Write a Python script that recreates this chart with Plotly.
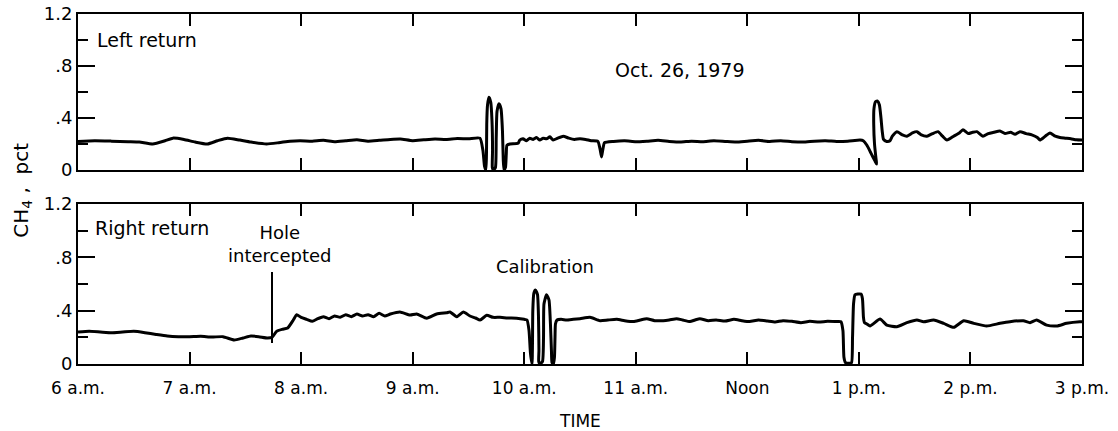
import plotly.graph_objects as go

# ---------------- data ----------------
hour_ticks = [6, 7, 8, 9, 10, 11, 12, 13, 14, 15]
hour_labels = ["6 a.m.", "7 a.m.", "8 a.m.", "9 a.m.", "10 a.m.", "11 a.m.", "Noon", "1 p.m.", "2 p.m.", "3 p.m."]
y_major = [0, 0.4, 0.8, 1.2]
y_major_labels = ["0", ".4", ".8", "1.2"]
y_minor = [0.2, 0.6, 1.0]

# Left return (top panel): time in hours, CH4 in pct
left_time = [
    6.00, 6.15, 6.30, 6.45, 6.55, 6.67, 6.78, 6.85, 6.95, 7.05, 7.16, 7.25, 7.34, 7.45, 7.55, 7.69,
    7.80, 7.90, 7.99, 8.10, 8.20, 8.30, 8.40, 8.50, 8.60, 8.70, 8.80, 8.89, 9.00, 9.10, 9.20, 9.30,
    9.40, 9.50, 9.603,
    9.630, 9.644, 9.657, 9.662, 9.664, 9.671, 9.684, 9.700, 9.711, 9.716, 9.714, 9.724, 9.742,
    9.749, 9.756, 9.774, 9.792, 9.805, 9.812, 9.819, 9.832, 9.839, 9.845, 9.872, 9.944,
    9.96, 9.99, 10.02, 10.05, 10.08, 10.11, 10.14, 10.17, 10.20, 10.23, 10.26, 10.30, 10.35, 10.40,
    10.45, 10.50, 10.55, 10.60, 10.66, 10.68, 10.693, 10.705, 10.72, 10.80, 10.90, 11.00, 11.10,
    11.20, 11.30, 11.40, 11.50, 11.60, 11.70, 11.80, 11.90, 12.00, 12.10, 12.20, 12.30, 12.40,
    12.50, 12.60, 12.70, 12.80, 12.90,
    13.010, 13.039, 13.072, 13.108, 13.144, 13.159, 13.153, 13.140, 13.133, 13.135, 13.149,
    13.167, 13.184, 13.198, 13.209, 13.221, 13.249, 13.279,
    13.30, 13.341, 13.39, 13.431, 13.48, 13.52, 13.56, 13.61, 13.66, 13.709, 13.75, 13.79, 13.85,
    13.90, 13.933, 13.98, 14.02, 14.058, 14.112, 14.16, 14.21, 14.264, 14.31, 14.36, 14.40, 14.444,
    14.50, 14.55, 14.60, 14.623, 14.67, 14.713, 14.76, 14.802, 14.85, 14.90, 14.95, 15.00,
]
left_ch4 = [
    0.220, 0.225, 0.222, 0.218, 0.215, 0.200, 0.225, 0.245, 0.235, 0.215, 0.200, 0.225, 0.245, 0.230, 0.215, 0.200,
    0.210, 0.222, 0.225, 0.222, 0.228, 0.218, 0.225, 0.232, 0.222, 0.228, 0.235, 0.238, 0.225, 0.232, 0.238, 0.235,
    0.242, 0.240, 0.245,
    0.150, 0.030, 0.000, 0.150, 0.350, 0.500, 0.560, 0.520, 0.380, 0.150, 0.020, 0.000, 0.020,
    0.250, 0.450, 0.510, 0.470, 0.300, 0.080, 0.000, 0.020, 0.120, 0.190, 0.200, 0.205,
    0.230, 0.240, 0.225, 0.245, 0.235, 0.250, 0.230, 0.245, 0.240, 0.255, 0.230, 0.245, 0.260, 0.245,
    0.235, 0.240, 0.235, 0.225, 0.220, 0.160, 0.100, 0.160, 0.210, 0.220, 0.225, 0.218, 0.222,
    0.228, 0.220, 0.215, 0.222, 0.218, 0.225, 0.220, 0.215, 0.222, 0.228, 0.220, 0.225, 0.218,
    0.215, 0.222, 0.225, 0.220, 0.222,
    0.230, 0.225, 0.190, 0.130, 0.070, 0.046, 0.090, 0.200, 0.350, 0.470, 0.525,
    0.530, 0.500, 0.400, 0.300, 0.235, 0.220, 0.225,
    0.260, 0.295, 0.270, 0.260, 0.285, 0.295, 0.270, 0.260, 0.280, 0.295, 0.260, 0.230, 0.260,
    0.285, 0.310, 0.280, 0.290, 0.295, 0.260, 0.280, 0.290, 0.300, 0.280, 0.290, 0.275, 0.295,
    0.280, 0.270, 0.250, 0.230, 0.260, 0.285, 0.260, 0.250, 0.245, 0.240, 0.232, 0.230,
]

# Right return (bottom panel)
right_time = [
    6.00, 6.10, 6.20, 6.30, 6.40, 6.50, 6.60, 6.70, 6.80, 6.90, 7.00, 7.10, 7.20, 7.30, 7.40, 7.48,
    7.55, 7.62, 7.70, 7.74, 7.78, 7.83, 7.88, 7.93, 7.96, 8.00, 8.05, 8.10, 8.15, 8.20, 8.25, 8.30,
    8.35, 8.40, 8.45, 8.50, 8.55, 8.60, 8.65, 8.70, 8.75, 8.80, 8.886, 8.976, 9.036, 9.126, 9.215,
    9.305, 9.335, 9.395, 9.454, 9.514, 9.564, 9.604, 9.664, 9.72, 9.783, 9.85, 9.932, 10.00, 10.025,
    10.043, 10.056, 10.070, 10.074, 10.077, 10.086, 10.101, 10.119, 10.128, 10.132, 10.130, 10.141,
    10.164, 10.173, 10.177, 10.200, 10.222, 10.235, 10.244, 10.249, 10.262, 10.271, 10.276, 10.280, 10.294,
    10.33, 10.38, 10.44, 10.50, 10.59, 10.68, 10.75, 10.83, 10.90, 10.98, 11.04, 11.098, 11.17, 11.246,
    11.30, 11.366, 11.42, 11.486, 11.53, 11.575, 11.65, 11.72, 11.80, 11.88, 11.95, 12.02, 12.10,
    12.18, 12.25, 12.32, 12.40, 12.48, 12.56, 12.64, 12.72, 12.80, 12.839,
    12.857, 12.866, 12.880, 12.911, 12.934, 12.943, 12.952, 12.965, 12.992, 13.019, 13.032, 13.041,
    13.050, 13.072,
    13.10, 13.19, 13.25, 13.34, 13.43, 13.52, 13.58, 13.67, 13.76, 13.85, 13.94, 14.03, 14.145,
    14.265, 14.354, 14.474, 14.534, 14.593, 14.683, 14.773, 14.862, 14.98, 15.00,
]
right_ch4 = [
    0.240, 0.245, 0.240, 0.235, 0.240, 0.245, 0.235, 0.222, 0.210, 0.205, 0.205, 0.208, 0.202, 0.205, 0.180, 0.195,
    0.210, 0.205, 0.195, 0.200, 0.245, 0.260, 0.270, 0.330, 0.370, 0.350, 0.335, 0.320, 0.340, 0.355, 0.340, 0.360,
    0.350, 0.370, 0.355, 0.375, 0.360, 0.370, 0.355, 0.380, 0.360, 0.375, 0.390, 0.367, 0.375, 0.343, 0.375,
    0.385, 0.390, 0.355, 0.390, 0.360, 0.345, 0.330, 0.365, 0.350, 0.350, 0.345, 0.343, 0.335, 0.330,
    0.250, 0.080, 0.000, 0.150, 0.400, 0.530, 0.555, 0.520, 0.350, 0.100, 0.020, 0.000,
    0.020, 0.200, 0.450, 0.520, 0.480, 0.300, 0.100, 0.010, 0.000, 0.050, 0.200, 0.300, 0.330,
    0.335, 0.330, 0.335, 0.340, 0.350, 0.325, 0.330, 0.335, 0.325, 0.318, 0.330, 0.340, 0.325, 0.325,
    0.330, 0.340, 0.330, 0.318, 0.330, 0.340, 0.325, 0.330, 0.322, 0.335, 0.325, 0.318, 0.330,
    0.322, 0.315, 0.325, 0.320, 0.310, 0.320, 0.315, 0.320, 0.318, 0.317,
    0.250, 0.050, 0.010, 0.005, 0.010, 0.200, 0.450, 0.520, 0.525, 0.525, 0.490, 0.350,
    0.310, 0.300,
    0.285, 0.337, 0.292, 0.280, 0.310, 0.330, 0.317, 0.330, 0.305, 0.275, 0.325, 0.305, 0.285,
    0.305, 0.317, 0.325, 0.310, 0.330, 0.292, 0.285, 0.305, 0.317, 0.317,
]

hole_time = 7.739
hole_marker_ch4 = [0.158, 0.69]

FONT = "DejaVu Sans"

fig = go.Figure()
fig.add_trace(go.Scatter(x=left_time, y=left_ch4, mode="lines",
                         line=dict(color="black", width=3, shape="spline", smoothing=0.5),
                         xaxis="x", yaxis="y", showlegend=False, hoverinfo="skip"))
fig.add_trace(go.Scatter(x=right_time, y=right_ch4, mode="lines",
                         line=dict(color="black", width=3, shape="spline", smoothing=0.5),
                         xaxis="x2", yaxis="y2", showlegend=False, hoverinfo="skip"))
fig.add_trace(go.Scatter(x=[hole_time, hole_time], y=hole_marker_ch4, mode="lines",
                         line=dict(color="black", width=2),
                         xaxis="x2", yaxis="y2", showlegend=False, hoverinfo="skip"))

xaxis_common = dict(range=[6, 15], tickvals=hour_ticks, ticktext=hour_labels,
                    ticks="inside", ticklen=12, tickwidth=2, tickcolor="black",
                    showline=True, linecolor="black", linewidth=2, mirror="ticks",
                    showgrid=False, zeroline=False, automargin=False,
                    tickfont=dict(family=FONT, size=17, color="black"))
yaxis_common = dict(range=[0, 1.2], tickvals=y_major, ticktext=y_major_labels,
                    ticks="inside", ticklen=17, tickwidth=2, tickcolor="black",
                    minor=dict(tickvals=y_minor, ticks="inside", ticklen=10, tickwidth=2, tickcolor="black"),
                    showline=True, linecolor="black", linewidth=2, mirror="ticks",
                    showgrid=False, zeroline=False, automargin=False,
                    tickfont=dict(family=FONT, size=18, color="black"))

fig.update_layout(
    width=1118, height=431,
    margin=dict(l=78, r=36, t=14, b=67),
    paper_bgcolor="white", plot_bgcolor="white",
    font=dict(family=FONT, color="black"),
    xaxis=dict(xaxis_common, anchor="y", showticklabels=False),
    yaxis=dict(yaxis_common, domain=[0.5543, 1.0], anchor="x"),
    xaxis2=dict(xaxis_common, anchor="y2", ticklabelstandoff=8),
    yaxis2=dict(yaxis_common, domain=[0.0, 0.4571], anchor="x2"),
)

ann_font = dict(family=FONT, size=19, color="black")
fig.add_annotation(x=6.15, y=1.0, xref="x", yref="y", text="Left return", showarrow=False,
                   xanchor="left", yanchor="middle", font=ann_font)
fig.add_annotation(x=11.4, y=0.77, xref="x", yref="y", text="Oct. 26, 1979", showarrow=False,
                   xanchor="center", yanchor="middle", font=dict(family=FONT, size=19, color="black"))
fig.add_annotation(x=6.13, y=1.02, xref="x2", yref="y2", text="Right return", showarrow=False,
                   xanchor="left", yanchor="middle", font=ann_font)
fig.add_annotation(x=7.81, y=0.9, xref="x2", yref="y2", text="Hole<br>intercepted", showarrow=False,
                   xanchor="center", yanchor="middle", font=dict(family=FONT, size=18, color="black"))
fig.add_annotation(x=10.19, y=0.73, xref="x2", yref="y2", text="Calibration", showarrow=False,
                   xanchor="center", yanchor="middle", font=dict(family=FONT, size=18, color="black"))
fig.add_annotation(x=-0.056, y=0.497, xref="paper", yref="paper", text="CH<sub>4</sub> ,  pct",
                   showarrow=False, textangle=-90, xanchor="center", yanchor="middle",
                   font=dict(family=FONT, size=20, color="black"))
fig.add_annotation(x=0.5, y=-0.163, xref="paper", yref="paper", text="TIME", showarrow=False,
                   xanchor="center", yanchor="middle", font=dict(family=FONT, size=17, color="black"))

fig.write_html("out.html",
               config={"displayModeBar": False},
               post_script="document.body.style.margin='0';document.body.style.padding='0';"
                           "document.body.style.overflow='hidden';")
